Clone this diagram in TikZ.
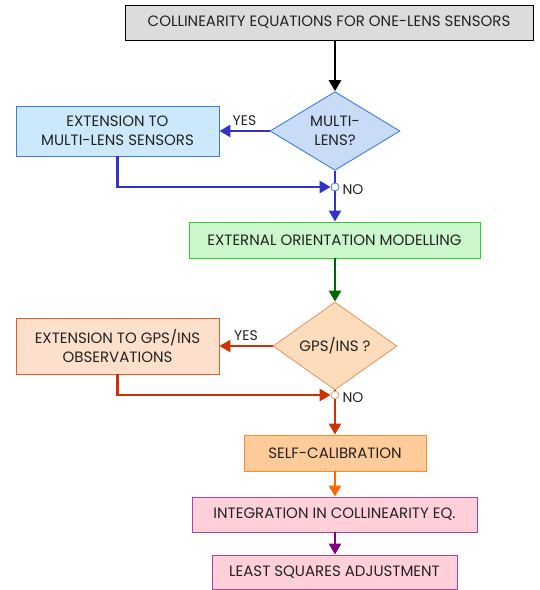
\documentclass[tikz,border=0pt]{standalone}
\usepackage{fontspec}
\setmainfont{Poppins}
\usetikzlibrary{shapes.geometric,arrows.meta}
\definecolor{grayfill}{HTML}{DCDCDC}
\definecolor{bluefill}{HTML}{CCE9FB}
\definecolor{blueedge}{HTML}{3D7FD6}
\definecolor{dbluefill}{HTML}{C8DCF8}
\definecolor{greenfill}{HTML}{CCF7CC}
\definecolor{greenedge}{HTML}{33CC33}
\definecolor{peachfill}{HTML}{FDE0CC}
\definecolor{peachedge}{HTML}{E06030}
\definecolor{dpeachfill}{HTML}{FDDCBC}
\definecolor{dpeachedge}{HTML}{E69966}
\definecolor{orangefill}{HTML}{FFCC99}
\definecolor{orangeedge}{HTML}{FF8833}
\definecolor{pinkfill}{HTML}{FFD0D8}
\definecolor{pinkedge}{HTML}{AA44AA}
\definecolor{ablue}{HTML}{3333CC}
\definecolor{agreen}{HTML}{006600}
\definecolor{ared}{HTML}{CC3300}
\definecolor{aorange}{HTML}{FF6600}
\definecolor{apurple}{HTML}{800080}
\definecolor{txt}{HTML}{222222}
\tikzset{
  box/.style={draw, line width=0.9pt, inner sep=0pt, align=center, text=txt, font=\fontsize{15}{18.5}\selectfont},
  dia/.style={diamond, draw, line width=0.9pt, inner sep=0pt, align=center, text=txt, font=\fontsize{15}{18.5}\selectfont},
  flow/.style={line width=2.6pt, -{Triangle[length=11pt,width=12pt]}},
  plain/.style={line width=2.6pt},
  junc/.style={circle, draw, fill=white, line width=0.8pt, inner sep=0pt, minimum size=8pt},
  lbl/.style={font=\fontsize{14}{17}\selectfont, inner sep=0pt, text=txt}
}
\begin{document}
\begin{tikzpicture}[x=1pt,y=-1pt]
\useasboundingbox (0,0) rectangle (540,590);
\node[box, fill=grayfill, minimum width=408pt, minimum height=35pt] (top) at (329,22.5) {COLLINEARITY EQUATIONS FOR ONE-LENS SENSORS};
\node[dia, fill=dbluefill, draw=blueedge, minimum width=130pt, minimum height=76pt] (d1) at (335,131) {MULTI-\\LENS?};
\node[box, fill=bluefill, draw=blueedge, minimum width=203pt, minimum height=50pt] (e1) at (117.5,131) {EXTENSION TO\\MULTI-LENS SENSORS};
\node[junc, draw=blueedge] (c1) at (335,187) {};
\node[box, fill=greenfill, draw=greenedge, minimum width=291pt, minimum height=36pt] (eom) at (334.5,240) {EXTERNAL ORIENTATION MODELLING};
\node[dia, fill=dpeachfill, draw=dpeachedge, minimum width=124pt, minimum height=70pt] (d2) at (335,346) {GPS/INS ?};
\node[box, fill=peachfill, draw=peachedge, minimum width=203pt, minimum height=56pt] (e2) at (117.5,346) {EXTENSION TO GPS/INS\\OBSERVATIONS};
\node[junc, draw=dpeachedge] (c2) at (335,395) {};
\node[box, fill=orangefill, draw=orangeedge, minimum width=182pt, minimum height=36pt] (sc) at (335,453) {SELF-CALIBRATION};
\node[box, fill=pinkfill, draw=pinkedge, minimum width=285pt, minimum height=35pt] (ic) at (334.5,514.5) {INTEGRATION IN COLLINEARITY EQ.};
\node[box, fill=pinkfill, draw=pinkedge, minimum width=245pt, minimum height=34pt] (ls) at (334.5,572) {LEAST SQUARES ADJUSTMENT};

\draw[flow, black] (d1.north |- top.south) -- (d1.north);
\draw[flow, ablue] (d1.west) -- (e1.east) node[lbl, midway, above=4pt] {YES};
\draw[flow, ablue] (e1.south) |- (c1.west);
\draw[plain, ablue] (d1.south) -- (c1.north);
\draw[flow, ablue] (c1.south) -- (eom.north -| c1);
\node[lbl, anchor=west] (no1) at ([xshift=3pt,yshift=-3pt]c1.east) {NO};
\draw[flow, agreen] (eom.south -| d2.north) -- (d2.north);
\draw[flow, ared] (d2.west) -- (e2.east) node[lbl, midway, above=4pt] {YES};
\draw[flow, ared] (e2.south) |- (c2.west);
\draw[plain, ared] (d2.south) -- (c2.north);
\draw[flow, ared] (c2.south) -- (sc.north);
\node[lbl, anchor=west] (no2) at ([xshift=3pt,yshift=-3pt]c2.east) {NO};
\draw[flow, aorange] (sc.south) -- (sc.south |- ic.north);
\draw[flow, apurple] (ic.south -| sc.south) -- (ls.north -| sc.south);
\end{tikzpicture}
\end{document}
